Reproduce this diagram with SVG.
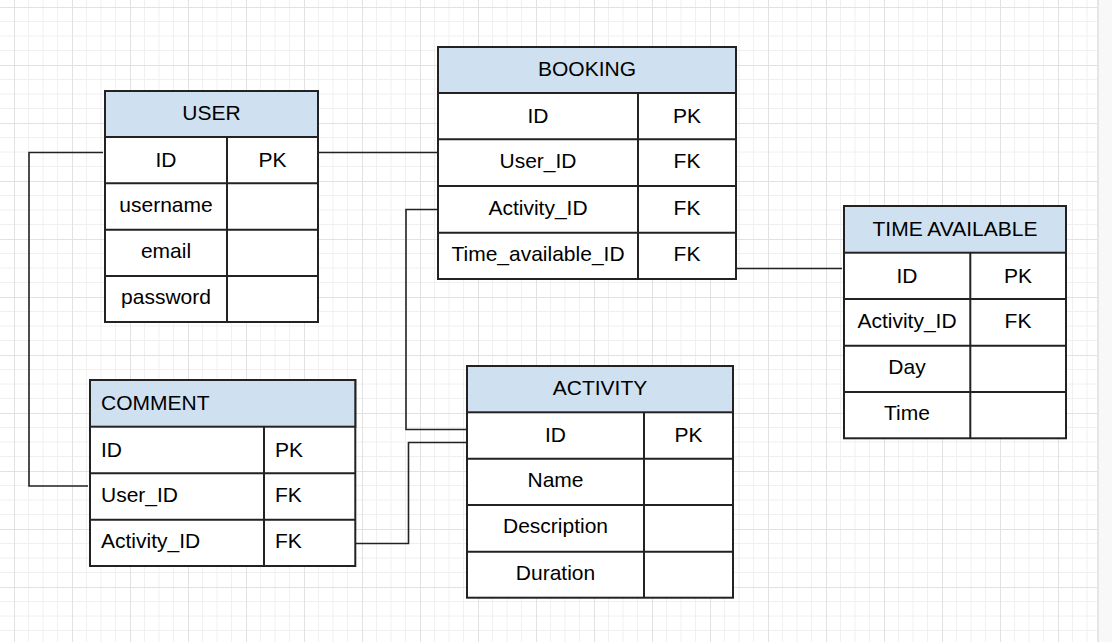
<svg xmlns="http://www.w3.org/2000/svg" width="1112" height="642" viewBox="0 0 1112 642">
  <defs>
    <pattern id="grid" patternUnits="userSpaceOnUse" x="14" y="7" width="58" height="58">
      <path d="M14.5 0V58M29 0V58M43.5 0V58M0 14.5H58M0 29H58M0 43.5H58" stroke="#f0f0f0" stroke-width="1" fill="none"/>
      <path d="M0.5 0V58M0 0.5H58" stroke="#e2e2e2" stroke-width="1" fill="none"/>
    </pattern>
    <style>
      .hdr { fill: #cfe0f1; stroke: #222; stroke-width: 2; }
      .box { fill: #ffffff; stroke: #222; stroke-width: 2; }
      .ln { stroke: #222; stroke-width: 2; fill: none; }
      .conn { stroke: #222; stroke-width: 1.6; fill: none; }
      text { font-family: "Liberation Sans", Arial, sans-serif; font-size: 21px; fill: #000; }
      .c { text-anchor: middle; }
    </style>
  </defs>
  <rect x="0" y="0" width="1112" height="642" fill="#ffffff"/>
  <rect x="0" y="0" width="1097" height="642" fill="url(#grid)"/>
  <rect x="1097" y="0" width="15" height="642" fill="#f8f8f8"/>
  <line x1="1098" y1="0" x2="1098" y2="642" stroke="#e6e6e6" stroke-width="2"/>

  <g id="connectors">
    <path class="conn" d="M318 152.5H437"/>
    <path class="conn" d="M103 152.5H29V486H88"/>
    <path class="conn" d="M437 209.5H406V429.5H466"/>
    <path class="conn" d="M356 543.5H408.5V442.5H466"/>
    <path class="conn" d="M736 268.5H842"/>
  </g>

  <g id="user">
    <rect class="box" x="105" y="91" width="213" height="231"/>
    <rect class="hdr" x="105" y="91" width="213" height="46"/>
    <path class="ln" d="M105 183.3H318M105 229.7H318M105 276H318M227 137V322"/>
    <text class="c" x="211.5" y="120">USER</text>
    <text class="c" x="166" y="167">ID</text>
    <text class="c" x="272.5" y="167">PK</text>
    <text class="c" x="166" y="212">username</text>
    <text class="c" x="166" y="258">email</text>
    <text class="c" x="166" y="304">password</text>
  </g>

  <g id="booking">
    <rect class="box" x="438" y="47" width="298" height="232"/>
    <rect class="hdr" x="438" y="47" width="298" height="46"/>
    <path class="ln" d="M438 139.3H736M438 186H736M438 232.7H736M638 93V279"/>
    <text class="c" x="587" y="76">BOOKING</text>
    <text class="c" x="538" y="123">ID</text>
    <text class="c" x="687" y="123">PK</text>
    <text class="c" x="538" y="168">User_ID</text>
    <text class="c" x="687" y="168">FK</text>
    <text class="c" x="538" y="215">Activity_ID</text>
    <text class="c" x="687" y="215">FK</text>
    <text class="c" x="538" y="261">Time_available_ID</text>
    <text class="c" x="687" y="261">FK</text>
  </g>

  <g id="time-available">
    <rect class="box" x="844" y="206" width="222" height="232.3"/>
    <rect class="hdr" x="844" y="206" width="222" height="46.7"/>
    <path class="ln" d="M844 299H1066M844 345.7H1066M844 392H1066M970.3 252.7V438.3"/>
    <text class="c" x="955" y="236">TIME AVAILABLE</text>
    <text class="c" x="907" y="283">ID</text>
    <text class="c" x="1018" y="283">PK</text>
    <text class="c" x="907" y="328">Activity_ID</text>
    <text class="c" x="1018" y="328">FK</text>
    <text class="c" x="907" y="374">Day</text>
    <text class="c" x="907" y="420">Time</text>
  </g>

  <g id="comment">
    <rect class="box" x="90" y="380" width="265.3" height="186"/>
    <rect class="hdr" x="90" y="380" width="265.3" height="46.7"/>
    <path class="ln" d="M90 473.3H355.3M90 519.7H355.3M264 426.7V566"/>
    <text x="101" y="410">COMMENT</text>
    <text x="101" y="457">ID</text>
    <text x="275" y="457">PK</text>
    <text x="101" y="502">User_ID</text>
    <text x="275" y="502">FK</text>
    <text x="101" y="548">Activity_ID</text>
    <text x="275" y="548">FK</text>
  </g>

  <g id="activity">
    <rect class="box" x="467" y="366" width="266" height="231.7"/>
    <rect class="hdr" x="467" y="366" width="266" height="46.3"/>
    <path class="ln" d="M467 458.7H733M467 505H733M467 551.7H733M644 412.3V597.7"/>
    <text class="c" x="600" y="395">ACTIVITY</text>
    <text class="c" x="555.5" y="442">ID</text>
    <text class="c" x="555.5" y="487">Name</text>
    <text class="c" x="688.5" y="442">PK</text>
    <text class="c" x="555.5" y="533">Description</text>
    <text class="c" x="555.5" y="580">Duration</text>
  </g>
</svg>
